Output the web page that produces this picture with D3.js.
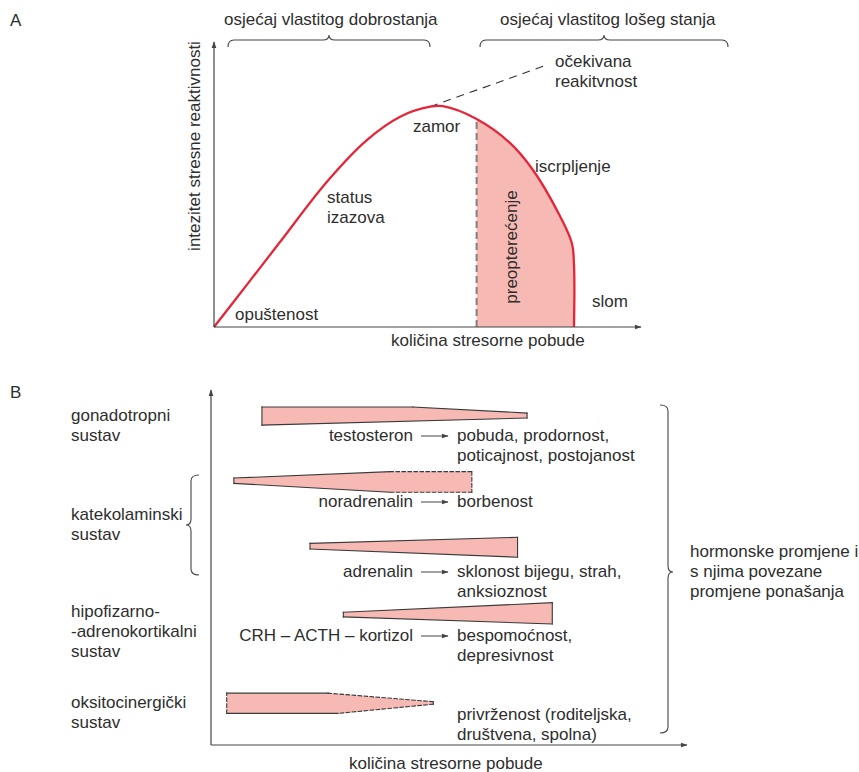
<!DOCTYPE html>
<html>
<head>
<meta charset="utf-8">
<script src="https://cdn.jsdelivr.net/npm/d3@7"></script>
<style>
  body { margin: 0; background: #fff; }
  svg text { font-family: "Liberation Sans", Arial, Helvetica, sans-serif; font-size: 17px; fill: #2e2e2e; }
</style>
</head>
<body>
<div class="chart"></div>
<script>
// panel A: stress response curve (x = amount of stress, y = intensity, both 0-100)
var responseCurve = [
    [0, 0], [8, 15.4], [15.5, 29.9], [26.4, 50.9], [35.8, 65.6], [43.6, 73.8], [50.6, 77.3],
    [53.6, 77.5], [61.5, 73], [69.3, 64.6], [74.7, 55.1], [80.3, 41], [83.8, 29.5],
    [84.3, 22], [84.3, 0]
];
var expectedLine = [[50.6, 77.3], [77.9, 91.9]];
var overloadStart = 61.5;

// panel B: hormone bands, outlines in (stress amount, level) units
var hormoneNames = ["testosteron", "noradrenalin", "adrenalin", "CRH – ACTH – kortizol", "oksitocin"];
var hormoneOutlines = [
    [[10.7, 95.2], [42.4, 95.2], [66.4, 93.5], [66.4, 92.1], [10.7, 90.1]],
    [[4.8, 75.2], [37.6, 77.0], [54.8, 77.0], [54.8, 71.2], [37.6, 71.2], [4.8, 73.7]],
    [[20.8, 56.8], [64.4, 58.5], [64.4, 52.9], [20.8, 55.2]],
    [[27.8, 37.4], [71.7, 40.1], [71.7, 34.1], [27.8, 36.1]],
    [[3.3, 14.6], [24.6, 14.6], [46.7, 12.2], [46.7, 11.5], [26.7, 8.9], [3.3, 8.9]]
];
var hormoneDashed = [
    [false, false, false, false, false],
    [false, true, true, true, false, false],
    [false, false, false, false],
    [false, false, false, false],
    [false, true, true, true, false, true]
];
var systemLabels = [
    ["gonadotropni", "sustav"],
    ["katekolaminski", "sustav"],
    ["hipofizarno-", "-adrenokortikalni", "sustav"],
    ["oksitocinergički", "sustav"]
];
var systemBaselines = [421, 520, 617, 708];
var effectLabels = [
    ["pobuda, prodornost,", "poticajnost, postojanost"],
    ["borbenost"],
    ["sklonost bijegu, strah,", "anksioznost"],
    ["bespomoćnost,", "depresivnost"],
    ["privrženost (roditeljska,", "društvena, spolna)"]
];
var effectBaselines = [441, 507, 577, 641, 720];

var red = "#e3263a", pink = "#f7b9b3", ink = "#3a3a3a";

var svg = d3.select(".chart").append("svg")
    .attr("width", 859)
    .attr("height", 772);

var defs = svg.append("defs");
defs.append("marker")
    .attr("id", "arrow")
    .attr("viewBox", "0 0 10 10")
    .attr("refX", 9).attr("refY", 5)
    .attr("markerWidth", 7).attr("markerHeight", 7)
    .attr("markerUnits", "userSpaceOnUse")
    .attr("orient", "auto")
    .append("path")
    .attr("d", "M0,1.5 L10,5 L0,8.5 Z")
    .attr("fill", "#444");

function text(x, y, s, anchor) {
    return svg.append("text").attr("x", x).attr("y", y)
        .attr("text-anchor", anchor || "start").text(s);
}
function lines(x, y, arr, anchor) {
    arr.forEach(function (s, i) { text(x, y + i * 20, s, anchor); });
}

// horizontal brace with tip pointing up
function hBrace(x1, x2, y) {
    var m = (x1 + x2) / 2, r = 6;
    var d = "M" + x1 + "," + (y + 7) + " Q" + x1 + "," + y + " " + (x1 + r) + "," + y +
        " L" + (m - r) + "," + y + " Q" + m + "," + y + " " + m + "," + (y - 5) +
        " Q" + m + "," + y + " " + (m + r) + "," + y +
        " L" + (x2 - r) + "," + y + " Q" + x2 + "," + y + " " + x2 + "," + (y + 7);
    svg.append("path").attr("d", d).attr("fill", "none").attr("stroke", "#444").attr("stroke-width", 1.1);
}
// vertical brace, dir = 1 tip right, -1 tip left
function vBrace(x, y1, y2, ym, dir) {
    var r = 6, e = -dir * 8;
    var d = "M" + (x + e) + "," + y1 + " Q" + x + "," + y1 + " " + x + "," + (y1 + r) +
        " L" + x + "," + (ym - r) + " Q" + x + "," + ym + " " + (x + dir * 5) + "," + ym +
        " Q" + x + "," + ym + " " + x + "," + (ym + r) +
        " L" + x + "," + (y2 - r) + " Q" + x + "," + y2 + " " + (x + e) + "," + y2;
    svg.append("path").attr("d", d).attr("fill", "none").attr("stroke", "#444").attr("stroke-width", 1.1);
}

// ---------- panel A ----------
var xA = d3.scaleLinear().domain([0, 100]).range([214, 641]);
var yA = d3.scaleLinear().domain([0, 100]).range([327, 42]);

text(10, 26, "A");

var curve = d3.line()
    .x(function (d) { return xA(d[0]); })
    .y(function (d) { return yA(d[1]); })
    .curve(d3.curveCatmullRom.alpha(0.5));

defs.append("clipPath").attr("id", "overload")
    .append("rect")
    .attr("x", xA(overloadStart)).attr("y", 0)
    .attr("width", 300).attr("height", yA(0));

svg.append("path")
    .attr("d", curve(responseCurve) + "Z")
    .attr("fill", pink)
    .attr("clip-path", "url(#overload)");

svg.append("line")
    .attr("x1", xA(overloadStart)).attr("x2", xA(overloadStart))
    .attr("y1", yA(0)).attr("y2", yA(73))
    .attr("stroke", "#808080").attr("stroke-width", 2)
    .attr("stroke-dasharray", "7,4");

svg.append("path")
    .attr("d", d3.line().x(function (d) { return xA(d[0]); }).y(function (d) { return yA(d[1]); })(expectedLine))
    .attr("stroke", "#333").attr("stroke-width", 1.1)
    .attr("stroke-dasharray", "8,6").attr("fill", "none");

svg.append("path")
    .attr("d", curve(responseCurve))
    .attr("fill", "none").attr("stroke", red).attr("stroke-width", 2.3);

// axes
svg.append("line").attr("x1", xA(0)).attr("y1", yA(0)).attr("x2", xA(0)).attr("y2", yA(100))
    .attr("stroke", "#444").attr("stroke-width", 1.2).attr("marker-end", "url(#arrow)");
svg.append("line").attr("x1", xA(0)).attr("y1", yA(0)).attr("x2", xA(100)).attr("y2", yA(0))
    .attr("stroke", "#444").attr("stroke-width", 1.2).attr("marker-end", "url(#arrow)");

text(224, 25, "osjećaj vlastitog dobrostanja");
text(500, 25, "osjećaj vlastitog lošeg stanja");
hBrace(228, 430, 40);
hBrace(480, 728, 40);
lines(555, 67, ["očekivana", "reakitvnost"]);
text(413, 132, "zamor");
lines(327, 203, ["status", "izazova"]);
text(535, 172, "iscrpljenje");
text(592, 307, "slom");
text(235, 320, "opuštenost");
text(391, 346, "količina stresorne pobude");
svg.append("text")
    .attr("transform", "translate(200,146) rotate(-90)")
    .attr("text-anchor", "middle")
    .text("intezitet stresne reaktivnosti");
svg.append("text")
    .attr("transform", "translate(517,247) rotate(-90)")
    .attr("text-anchor", "middle")
    .text("preopterećenje");

// ---------- panel B ----------
var xB = d3.scaleLinear().domain([0, 100]).range([211, 687]);
var yB = d3.scaleLinear().domain([0, 100]).range([745, 390]);

text(10, 398, "B");

hormoneOutlines.forEach(function (pts, h) {
    svg.append("path")
        .attr("d", d3.line().x(function (d) { return xB(d[0]); }).y(function (d) { return yB(d[1]); })(pts) + "Z")
        .attr("fill", pink).attr("stroke", "none");
    pts.forEach(function (p, i) {
        var q = pts[(i + 1) % pts.length];
        svg.append("line")
            .attr("x1", xB(p[0])).attr("y1", yB(p[1]))
            .attr("x2", xB(q[0])).attr("y2", yB(q[1]))
            .attr("stroke", ink).attr("stroke-width", 1.1)
            .attr("stroke-dasharray", hormoneDashed[h][i] ? "3.5,2.5" : null)
            .attr("stroke-linecap", "square");
    });
});

svg.append("line").attr("x1", xB(0)).attr("y1", yB(0)).attr("x2", xB(0)).attr("y2", yB(100))
    .attr("stroke", "#444").attr("stroke-width", 1.2).attr("marker-end", "url(#arrow)");
svg.append("line").attr("x1", xB(0)).attr("y1", yB(0)).attr("x2", xB(100)).attr("y2", yB(0))
    .attr("stroke", "#444").attr("stroke-width", 1.2).attr("marker-end", "url(#arrow)");

systemLabels.forEach(function (arr, i) { lines(71, systemBaselines[i], arr); });
vBrace(191, 475, 575, 525, -1);

hormoneNames.forEach(function (name, i) {
    if (name === "oksitocin") return;
    text(413, effectBaselines[i], name, "end");
    svg.append("line")
        .attr("x1", 421).attr("x2", 448)
        .attr("y1", effectBaselines[i] - 5).attr("y2", effectBaselines[i] - 5)
        .attr("stroke", "#444").attr("stroke-width", 1)
        .attr("marker-end", "url(#arrow)");
});
effectLabels.forEach(function (arr, i) { lines(457, effectBaselines[i], arr); });

vBrace(668, 405, 733, 572, 1);
lines(690, 557, ["hormonske promjene i", "s njima povezane", "promjene ponašanja"]);
text(349, 769, "količina stresorne pobude");
</script>
</body>
</html>
